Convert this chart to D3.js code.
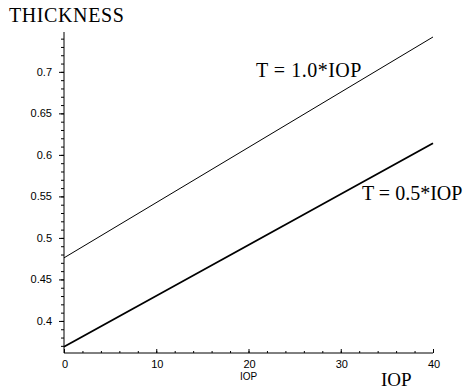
<!DOCTYPE html>
<html>
<head>
<meta charset="utf-8">
<script src="https://cdn.jsdelivr.net/npm/d3@7"></script>
<style>
  body { margin: 0; background: #fff; }
  svg { display: block; }
</style>
</head>
<body>
<svg id="chart" width="473" height="390"></svg>
<script>
/** IOP values (x) at the ends of the straight lines */
var iop = [0, 40];

/** Thickness for the two models */
var thickFull = [0.476, 0.742],
    thickHalf = [0.369, 0.614];

/** Line labels */
var labelFull = 'T = 1.0*IOP',
    labelHalf = 'T = 0.5*IOP';

var xTicks = [0, 10, 20, 30, 40],
    yTicks = [0.4, 0.45, 0.5, 0.55, 0.6, 0.65, 0.7];

var svg = d3.select('#chart');

var x = d3.scaleLinear().domain([0, 40]).range([64, 433]);
var y = d3.scaleLinear().domain([0.3614, 0.748]).range([353, 32]);

var sans = 'Liberation Sans, Arial, sans-serif',
    serif = 'Liberation Serif, Times New Roman, serif';

// y axis with minor ticks every 0.01
var yAxis = d3.axisLeft(y)
    .tickValues(d3.range(0.37, 0.745, 0.01).map(function (d) { return +d.toFixed(2); }))
    .tickSize(3)
    .tickFormat('');
var gy = svg.append('g').attr('transform', 'translate(' + x(0) + ',0)').call(yAxis);
gy.select('.domain').attr('d', 'M0,' + y.range()[1] + 'V' + y.range()[0]);

var yMajor = d3.axisLeft(y).tickValues(yTicks).tickSize(5).tickPadding(7)
    .tickFormat(function (d) { return String(d); });
var gy2 = svg.append('g').attr('transform', 'translate(' + x(0) + ',0)').call(yMajor);
gy2.select('.domain').remove();
gy2.selectAll('text').attr('font-family', sans).attr('font-size', 11);

// x axis, ticks pointing up, minor every 2
var xMinor = d3.axisTop(x)
    .tickValues(d3.range(0, 41, 2))
    .tickSize(2)
    .tickFormat('');
var gx = svg.append('g').attr('transform', 'translate(0,' + y.range()[0] + ')').call(xMinor);
gx.select('.domain').attr('d', 'M' + x.range()[0] + ',0H' + x.range()[1]);

var xMajor = d3.axisTop(x).tickValues(xTicks).tickSize(4).tickFormat('');
svg.append('g').attr('transform', 'translate(0,' + y.range()[0] + ')').call(xMajor)
    .select('.domain').remove();

svg.append('g').selectAll('text').data(xTicks).enter().append('text')
    .attr('x', function (d) { return x(d) + 1; })
    .attr('y', y.range()[0] + 15)
    .attr('text-anchor', 'middle')
    .attr('font-family', sans)
    .attr('font-size', 11)
    .text(function (d) { return d; });

svg.selectAll('.tick line, .domain').attr('stroke', '#000').attr('stroke-width', 1);

// lines
var line = d3.line()
    .x(function (d) { return x(d[0]); })
    .y(function (d) { return y(d[1]); });

svg.append('path')
    .datum(d3.zip(iop, thickFull))
    .attr('d', line)
    .attr('fill', 'none')
    .attr('stroke', '#000')
    .attr('stroke-width', 1);

svg.append('path')
    .datum(d3.zip(iop, thickHalf))
    .attr('d', line)
    .attr('fill', 'none')
    .attr('stroke', '#000')
    .attr('stroke-width', 1.8);

// texts
svg.append('text').attr('x', 9).attr('y', 22)
    .attr('font-family', serif).attr('font-size', 20)
    .attr('letter-spacing', 0.6)
    .text('THICKNESS');

svg.append('text').attr('x', x(20)).attr('y', 380)
    .attr('text-anchor', 'middle')
    .attr('font-family', sans).attr('font-size', 10)
    .text('IOP');

svg.append('text').attr('x', 381).attr('y', 386)
    .attr('font-family', serif).attr('font-size', 19)
    .text('IOP');

svg.append('text').attr('x', 256).attr('y', 77)
    .attr('font-family', serif).attr('font-size', 20)
    .attr('letter-spacing', 0.5)
    .text(labelFull);

svg.append('text').attr('x', 362).attr('y', 200)
    .attr('font-family', serif).attr('font-size', 20)
    .text(labelHalf);
</script>
</body>
</html>
